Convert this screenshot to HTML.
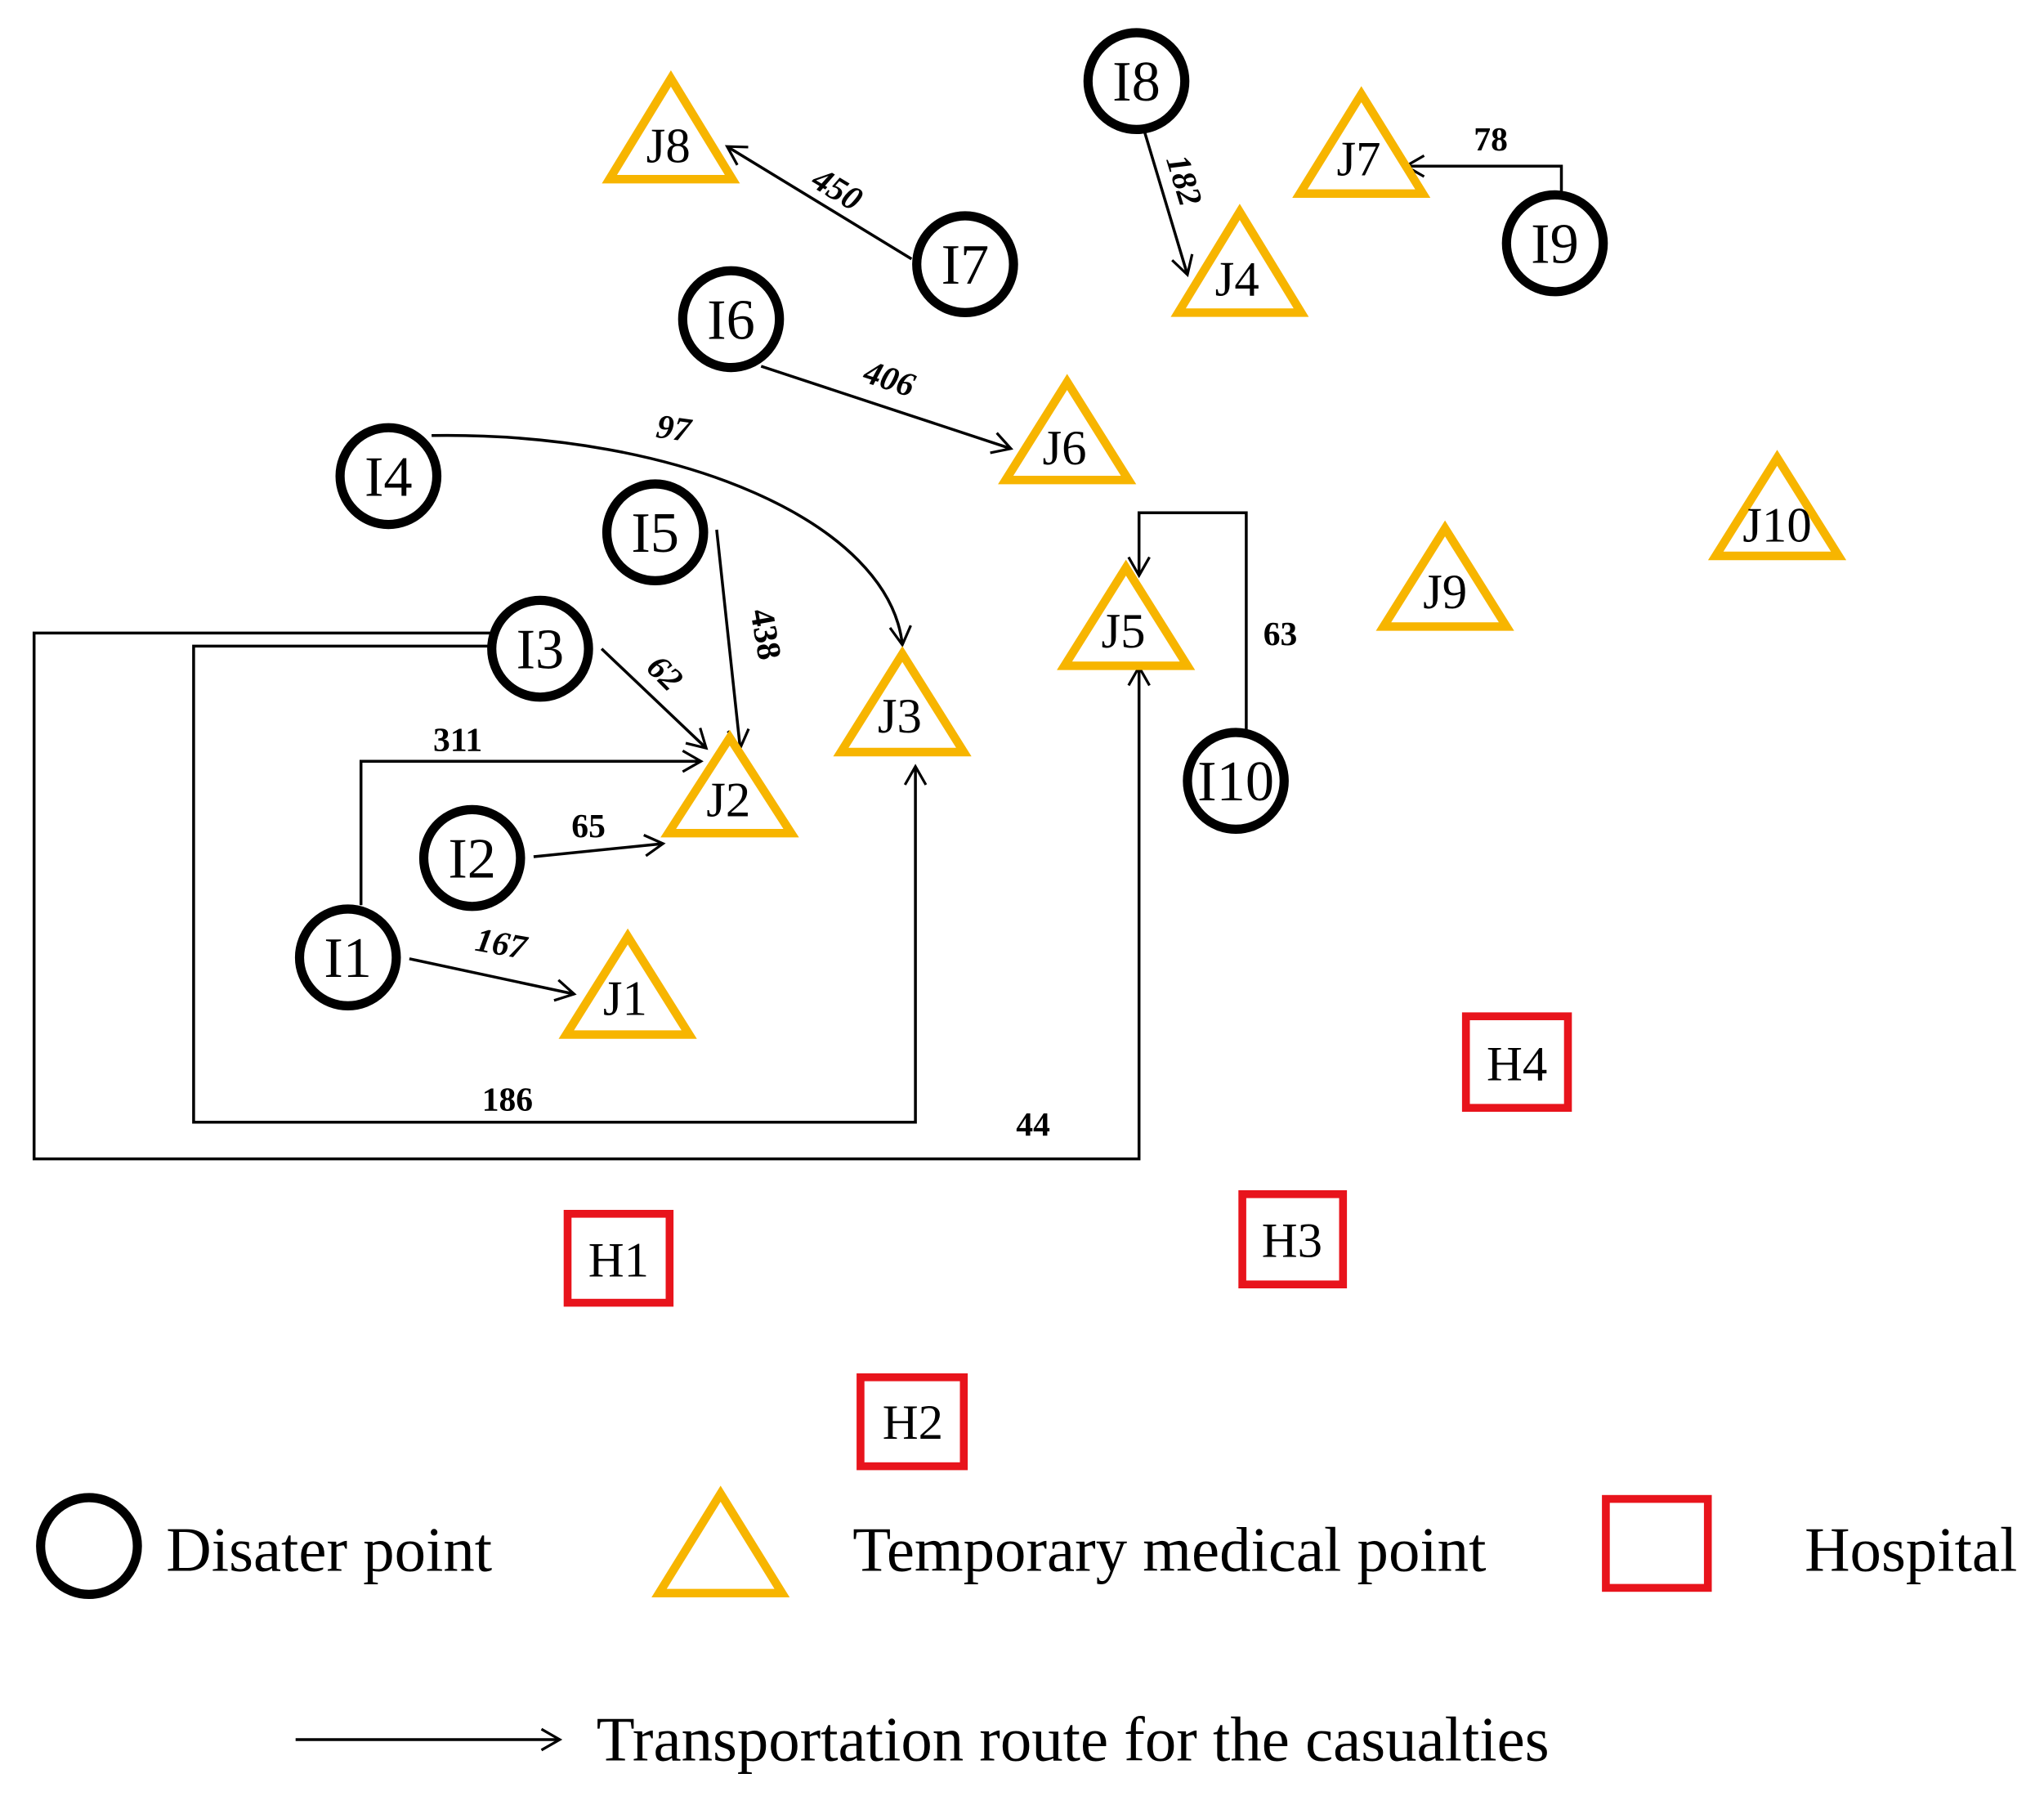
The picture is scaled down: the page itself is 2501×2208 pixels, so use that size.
<!DOCTYPE html>
<html><head><meta charset="utf-8"><style>
html,body{margin:0;padding:0;background:#fff;}
svg{display:block;}
text{font-family:"Liberation Serif",serif;}
.n{font-size:44px;text-anchor:middle;fill:#000;}
.e{font-size:26px;font-weight:bold;font-style:italic;text-anchor:middle;fill:#000;}
.u{font-style:normal;}
.l{font-size:48px;fill:#000;}
</style></head><body>
<svg width="2501" height="2208" viewBox="0 0 1563 1380" xmlns="http://www.w3.org/2000/svg">
<defs>
<marker id="a" markerWidth="24" markerHeight="24" refX="20" refY="12" orient="auto" markerUnits="userSpaceOnUse">
<polyline points="6,4 20,12 6,20" fill="none" stroke="#000" stroke-width="2"/>
</marker>
</defs>
<g fill="none" stroke="#000" stroke-width="2.2">
<line x1="697" y1="198" x2="556" y2="112" marker-end="url(#a)"/>
<line x1="875" y1="100" x2="908" y2="210" marker-end="url(#a)"/>
<polyline points="1194,150 1194,127 1075,127" marker-end="url(#a)"/>
<line x1="582" y1="280" x2="773" y2="343" marker-end="url(#a)"/>
<path d="M330,333 C520,330 680,400 690,493" marker-end="url(#a)"/>
<line x1="548" y1="405" x2="566" y2="572" marker-end="url(#a)"/>
<line x1="460" y1="496" x2="540" y2="572" marker-end="url(#a)"/>
<polyline points="276,692 276,582 536,582" marker-end="url(#a)"/>
<line x1="408" y1="655" x2="507" y2="645" marker-end="url(#a)"/>
<line x1="313" y1="733" x2="439" y2="760" marker-end="url(#a)"/>
<polyline points="375,494 148,494 148,858 700,858 700,586" marker-end="url(#a)"/>
<polyline points="375,484 26,484 26,886 871,886 871,510" marker-end="url(#a)"/>
<polyline points="953,558 953,392 871,392 871,440" marker-end="url(#a)"/>
<line x1="226" y1="1330" x2="428" y2="1330" marker-end="url(#a)"/>
</g>
<g fill="#fff" stroke="#000" stroke-width="7">
<circle cx="869" cy="62" r="37"/><circle cx="738" cy="202" r="37"/>
<circle cx="559" cy="244" r="37"/><circle cx="1189" cy="186" r="37"/>
<circle cx="297" cy="364" r="37"/><circle cx="501" cy="407" r="37"/>
<circle cx="413" cy="496" r="37"/><circle cx="945" cy="597" r="37"/>
<circle cx="361" cy="656" r="37"/><circle cx="266" cy="732" r="37"/>
<circle cx="68" cy="1182" r="37"/>
</g>
<g fill="none" stroke="#f7b500" stroke-width="6.5" stroke-linejoin="miter">
<polygon points="513,60 466,137 560,137"/>
<polygon points="1041,72 994,148 1088,148"/>
<polygon points="948,162 901,239 995,239"/>
<polygon points="816,292 769,367 863,367"/>
<polygon points="1359,350 1312,425 1406,425"/>
<polygon points="1105,404 1058,479 1152,479"/>
<polygon points="861,434 814,509 908,509"/>
<polygon points="690,500 643,575 737,575"/>
<polygon points="558,564 511,637 605,637"/>
<polygon points="480,716 433,791 527,791"/>
<polygon points="551,1142 504,1218 598,1218"/>
</g>
<g fill="none" stroke="#e8141c" stroke-width="6">
<rect x="1121" y="777" width="78" height="70"/>
<rect x="950" y="913" width="77" height="69"/>
<rect x="434" y="928" width="78" height="68"/>
<rect x="658" y="1053" width="79" height="68"/>
<rect x="1228" y="1146" width="78" height="68"/>
</g>
<g class="n">
<text x="869" y="77">I8</text><text x="738" y="217">I7</text>
<text x="559" y="259">I6</text><text x="1189" y="201">I9</text>
<text x="297" y="379">I4</text><text x="501" y="422">I5</text>
<text x="413" y="511">I3</text><text x="945" y="612">I10</text>
<text x="361" y="671">I2</text><text x="266" y="747">I1</text>
</g>
<g class="n" style="font-size:38px">
<text x="511" y="124">J8</text><text x="1039" y="134">J7</text>
<text x="946" y="226">J4</text><text x="814" y="355">J6</text>
<text x="1359" y="414">J10</text><text x="1105" y="465">J9</text>
<text x="859" y="495">J5</text><text x="688" y="560">J3</text>
<text x="557" y="624">J2</text><text x="478" y="776">J1</text>
<text x="1160" y="826">H4</text><text x="988" y="961">H3</text>
<text x="473" y="976">H1</text><text x="698" y="1100">H2</text>
</g>
<g class="e">
<text x="640" y="153" transform="rotate(31 640 145)">450</text>
<text x="905" y="146" transform="rotate(73 905 138)">182</text>
<text class="u" x="1140" y="115">78</text>
<text x="680" y="298" transform="rotate(18 680 290)">406</text>
<text x="515" y="336" transform="rotate(8 515 328)">97</text>
<text class="u" x="585" y="493" transform="rotate(80 585 485)">438</text>
<text x="508" y="523" transform="rotate(45 508 515)">62</text>
<text class="u" x="350" y="574">311</text>
<text class="u" x="450" y="640">65</text>
<text x="383" y="730" transform="rotate(10 383 722)">167</text>
<text class="u" x="388" y="849">186</text>
<text class="u" x="790" y="868">44</text>
<text class="u" x="979" y="493">63</text>
</g>
<g class="l">
<text x="127" y="1201">Disater point</text>
<text x="652" y="1201">Temporary medical point</text>
<text x="1380" y="1201">Hospital</text>
<text x="456" y="1346">Transportation route for the casualties</text>
</g>
</svg>
</body></html>
